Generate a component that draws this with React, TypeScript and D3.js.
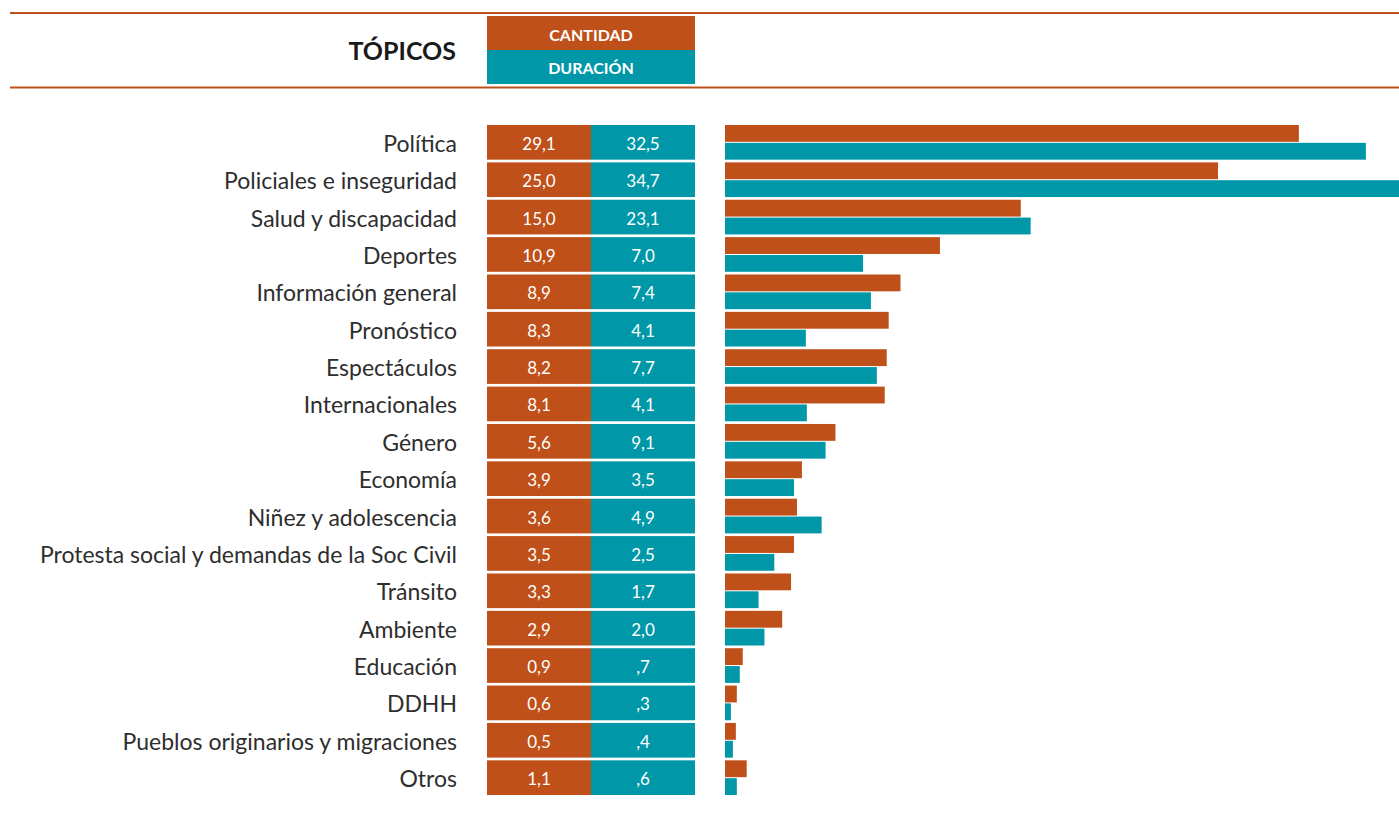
import React from 'react';
import * as d3 from 'd3';

const topics = [
  'Política', 'Policiales e inseguridad', 'Salud y discapacidad', 'Deportes',
  'Información general', 'Pronóstico', 'Espectáculos', 'Internacionales', 'Género',
  'Economía', 'Niñez y adolescencia', 'Protesta social y demandas de la Soc Civil',
  'Tránsito', 'Ambiente', 'Educación', 'DDHH', 'Pueblos originarios y migraciones', 'Otros',
];
// values printed in the table
const cantidad = [29.1, 25.0, 15.0, 10.9, 8.9, 8.3, 8.2, 8.1, 5.6, 3.9, 3.6, 3.5, 3.3, 2.9, 0.9, 0.6, 0.5, 1.1];
const duracion = [32.5, 34.7, 23.1, 7.0, 7.4, 4.1, 7.7, 4.1, 9.1, 3.5, 4.9, 2.5, 1.7, 2.0, 0.7, 0.3, 0.4, 0.6];
// bar lengths as drawn (two bars do not match their printed value)
const cantidadBarra = [29.1, 25.0, 15.0, 10.9, 8.9, 8.3, 8.2, 8.1, 5.6, 3.9, 3.65, 3.5, 3.35, 2.9, 0.9, 0.6, 0.55, 1.1];
const duracionBarra = [32.5, 34.7, 15.5, 7.0, 7.4, 4.1, 7.7, 4.15, 5.1, 3.5, 4.9, 2.5, 1.7, 2.0, 0.75, 0.3, 0.4, 0.6];
const headers = ['CANTIDAD', 'DURACIÓN'];

const ORANGE = '#BF5019';
const TEAL = '#0098A8';
const FONT = 'Lato, "Noto Sans", sans-serif';

const fmtCant = (v: number) => v.toFixed(1).replace('.', ',');
const fmtDur = (v: number) => (v < 1 ? v.toFixed(1).slice(1) : v.toFixed(1)).replace('.', ',');

export default function App() {
  const W = 1399, H = 828;
  const y = d3.scaleBand<string>().domain(topics).range([125, 795]).paddingInner(0.072);
  const x = d3.scaleLinear().domain([0, 35]).range([725, 725 + 35 * 19.72]);
  const colA = [487, 591];
  const colW = 104;
  const bw = y.bandwidth();

  return (
    <div style={{ position: 'fixed', left: 0, top: 0 }}>
      <svg width={W} height={H} style={{ display: 'block', background: '#fff' }}>
        <defs>
          <clipPath id="clip"><rect x={0} y={0} width={W} height={H} /></clipPath>
        </defs>
        {/* rules */}
        <line x1={10} x2={W} y1={13} y2={13} stroke={ORANGE} strokeWidth={2} />
        <line x1={10} x2={W} y1={87.5} y2={87.5} stroke={ORANGE} strokeWidth={2} />

        {/* header */}
        <text x={456} y={51} dy="0.35em" textAnchor="end" fontFamily={FONT} fontWeight={700} fontSize={25} fill="#1a1a1a">TÓPICOS</text>
        <rect x={487} y={16} width={208} height={34} fill={ORANGE} />
        <rect x={487} y={50} width={208} height={34} fill={TEAL} />
        {headers.map((h, i) => (
          <text key={h} x={591} y={35 + i * 33} dy="0.35em" textAnchor="middle" fontFamily={FONT}
            fontWeight={700} fontSize={16} fill="#fff">{h}</text>
        ))}

        {topics.map((t, i) => {
          const y0 = y(t)!;
          const cy = y0 + bw / 2;
          return (
            <g key={t}>
              <text x={457} y={cy + 1.5} dy="0.35em" textAnchor="end" fontFamily={FONT} fontSize={23} fill="#2e2e2e">{t}</text>
              <rect x={colA[0]} y={y0} width={colW} height={bw} fill={ORANGE} />
              <rect x={colA[1]} y={y0} width={colW} height={bw} fill={TEAL} />
              <text x={colA[0] + colW / 2} y={cy + 1.5} dy="0.35em" textAnchor="middle" fontFamily={FONT} fontSize={17} fill="#fff">{fmtCant(cantidad[i])}</text>
              <text x={colA[1] + colW / 2} y={cy + 1.5} dy="0.35em" textAnchor="middle" fontFamily={FONT} fontSize={17} fill="#fff">{fmtDur(duracion[i])}</text>
              <g clipPath="url(#clip)">
                <rect x={x(0)} y={y0} width={x(cantidadBarra[i]) - x(0)} height={bw / 2 - 0.5} fill={ORANGE} />
                <rect x={x(0)} y={cy + 0.5} width={x(duracionBarra[i]) - x(0)} height={bw / 2 - 0.5} fill={TEAL} />
              </g>
            </g>
          );
        })}
      </svg>
    </div>
  );
}
